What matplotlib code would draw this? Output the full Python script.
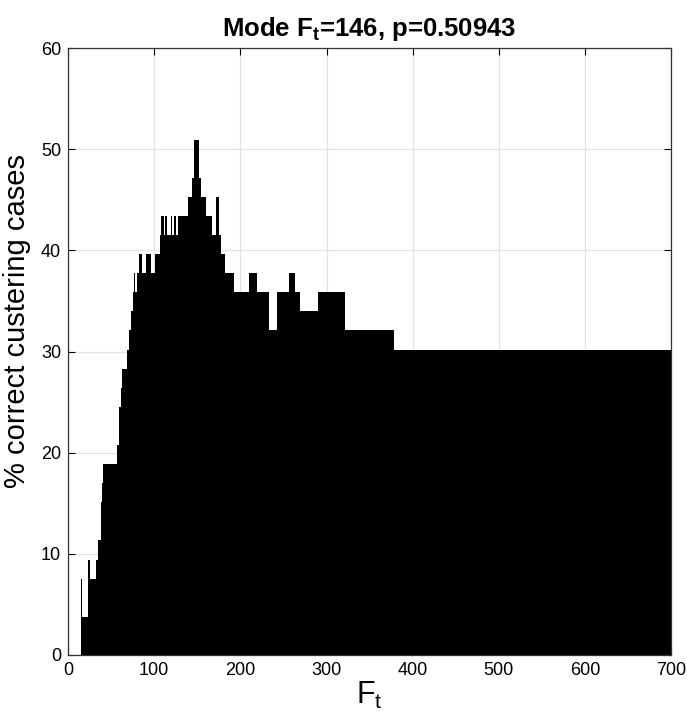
import numpy as np
import matplotlib.pyplot as plt

plt.rcParams['font.family'] = ['Liberation Sans', 'DejaVu Sans']
plt.rcParams['mathtext.fontset'] = 'custom'
plt.rcParams['mathtext.rm'] = 'Liberation Sans'
plt.rcParams['mathtext.bf'] = 'Liberation Sans:bold'
plt.rcParams['mathtext.default'] = 'regular'

# step levels: Ft start, Ft end, % correct
seg_start = [15, 16, 23, 25, 33, 35, 38, 39, 41, 57, 59, 61, 63, 68, 71, 73, 75, 76, 78, 80,
             82, 86, 90, 96, 101, 107, 108, 111, 113, 115, 119, 121, 123, 125, 128, 139, 144,
             146, 152, 154, 160, 167, 172, 175, 178, 182, 193, 210, 219, 233, 242, 256, 263,
             269, 290, 322, 378]
seg_end = seg_start[1:] + [701]
seg_pct = [7.55, 3.77, 9.43, 7.55, 9.43, 11.32, 15.09, 16.98, 18.87, 20.75, 24.53, 26.42, 28.30,
           30.19, 32.08, 33.96, 35.85, 37.74, 35.85, 37.74,
           39.62, 37.74, 39.62, 37.74, 39.62, 41.51, 43.40, 41.51, 43.40, 41.51, 43.40, 41.51,
           43.40, 41.51, 43.40, 45.28, 47.17,
           50.94, 47.17, 45.28, 43.40, 41.51, 45.28, 41.51, 39.62, 37.74, 35.85, 37.74, 35.85,
           32.08, 35.85, 37.74, 35.85,
           33.96, 35.85, 32.08, 30.19]

xticks = [0, 100, 200, 300, 400, 500, 600, 700]
yticks = [0, 10, 20, 30, 40, 50, 60]

fig = plt.figure(figsize=(6.87, 7.17), dpi=100)
ax = fig.add_axes([0.099, 0.0865, 0.878, 0.8465])

widths = np.array(seg_end) - np.array(seg_start)
ax.bar(seg_start, seg_pct, width=widths, align='edge', color='black', linewidth=0)

ax.set_xlim(0, 700)
ax.set_ylim(0, 60)
ax.set_xticks(xticks)
ax.set_yticks(yticks)
ax.grid(True, color='#e3e3e3', linewidth=0.9)
ax.set_axisbelow(True)
ax.tick_params(direction='in', top=True, right=True, length=5, labelsize=13, pad=5)
for s in ax.spines.values():
    s.set_linewidth(0.9)
    s.set_color('#333333')

ax.set_title(r'Mode F$_\mathbf{t}$=146, p=0.50943', fontsize=18.5, fontweight='bold', pad=9)
ax.set_xlabel(r'F$_t$', fontsize=22, labelpad=1)
ax.set_ylabel('% correct custering cases', fontsize=21)
ax.yaxis.set_label_coords(-0.062, 0.55)

fig.savefig('out.png', dpi=100)
